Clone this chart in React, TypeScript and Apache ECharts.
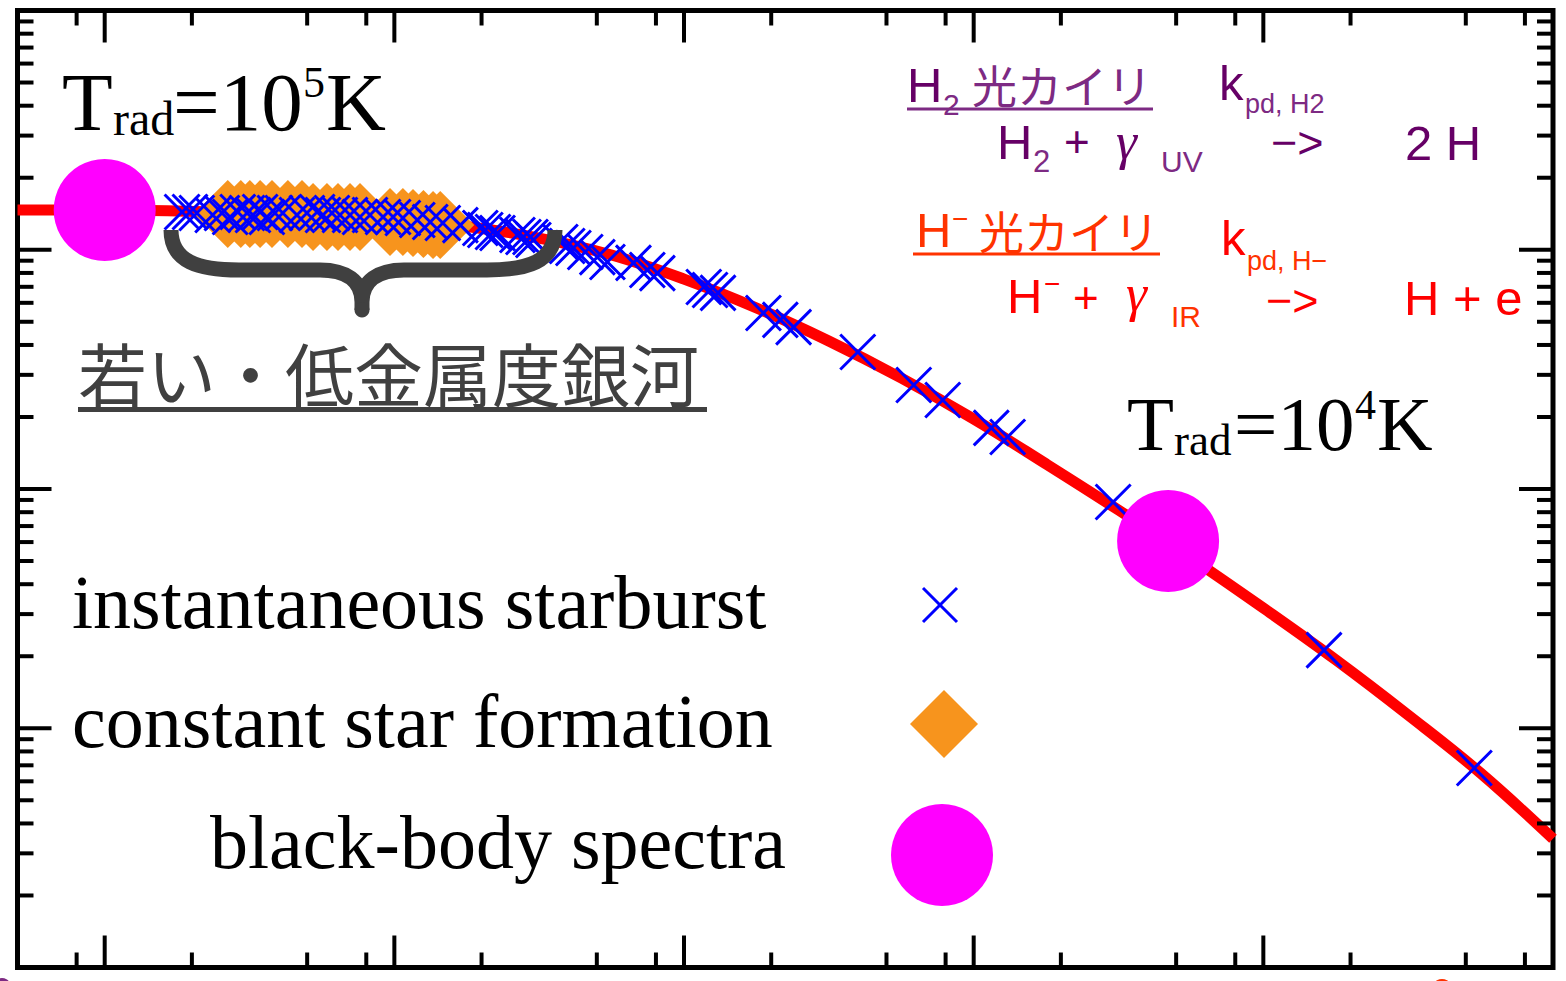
import React, { useEffect, useRef } from 'react';
import * as echarts from 'echarts';

// Axis ranges (log-log)
const X_MIN = 0.5;
const X_MAX = 1e5;
const Y_MIN = 1e-4;
const Y_MAX = 1;

// Black-body sequence (red curve)
const curveX = [0.5, 1, 1.78, 3.16, 5.62, 10, 17.8, 31.6, 56.2, 100, 178, 316, 562, 1000, 1780, 3160, 5620, 10000, 17800, 31600, 56200, 100000];
const curveY = [0.1466, 0.1466, 0.1452, 0.1424, 0.139, 0.1338, 0.1251, 0.1119, 0.0951, 0.0754, 0.0571, 0.04155, 0.02911, 0.01962, 0.01272, 0.00817, 0.00515, 0.00318, 0.00193, 0.001136, 0.00065, 0.000345];

// Instantaneous starburst models
const burstX = [1.85, 1.97, 2.08, 2.36, 2.54, 2.71, 2.88, 3.1, 3.25, 3.44, 3.63, 3.87, 4.12, 4.61, 4.99, 5.41, 5.67, 6.09, 6.49, 7.03, 7.61, 8.24, 9.14, 9.9, 10.7, 12.0, 13.3, 14.7, 16.9, 19.8, 21.9, 20.6, 22.7, 26.6, 27.9, 29.5, 30.2, 37.4, 39.5, 41.5, 45.6, 50.2, 54.4, 66.9, 74.7, 80.9, 117, 123, 131, 188, 215, 239, 398, 621, 782, 1150, 1310, 3030, 16200, 53500];
const burstY = [0.1438, 0.1438, 0.1424, 0.1397, 0.1424, 0.137, 0.1438, 0.1424, 0.1397, 0.1438, 0.137, 0.1424, 0.1424, 0.1397, 0.1424, 0.1438, 0.1397, 0.1424, 0.1397, 0.1397, 0.137, 0.1397, 0.137, 0.137, 0.1357, 0.1331, 0.1306, 0.1293, 0.1268, 0.1233, 0.1186, 0.1209, 0.1175, 0.1152, 0.113, 0.113, 0.1099, 0.1078, 0.1037, 0.1017, 0.0979, 0.0932, 0.0889, 0.0881, 0.0823, 0.0799, 0.0699, 0.0679, 0.066, 0.0544, 0.0509, 0.0475, 0.0374, 0.0272, 0.02355, 0.018, 0.0165, 0.00882, 0.00212, 0.000682];

// Constant star formation models
const constX = [2.66, 2.95, 3.17, 3.44, 3.78, 4.29, 4.8, 5.24, 5.85, 6.39, 7.03, 7.61, 9.66, 10.7, 11.6, 12.6, 13.6, 14.4];
const constY = [0.141, 0.141, 0.141, 0.141, 0.141, 0.141, 0.141, 0.137, 0.137, 0.137, 0.137, 0.137, 0.1306, 0.1306, 0.1293, 0.128, 0.1268, 0.1268];

// Black-body spectra: T_rad = 1e5 K and 1e4 K
const bbX = [1, 4690];
const bbY = [0.1466, 0.00606];

// Tick marks
const xMajorTicks = [1, 10, 100, 1000, 10000];
const xMinorTicks = [0.8, 2, 5, 8, 20, 50, 80, 200, 500, 800, 2000, 5000, 8000, 20000, 50000, 80000];
const yMajorTicks = [0.001, 0.01, 0.1];
const yDecades = [1e-4, 1e-3, 1e-2, 1e-1];
const yMinorMantissas = [2, 3, 4, 5, 6, 7, 8, 9];

const SERIF = "'Liberation Serif', 'Times New Roman', serif";
const SANS = "'Liberation Sans', Arial, sans-serif";
const CJK = "'Noto Sans CJK JP', 'Noto Sans CJK SC', sans-serif";
const CENTRAL: Record<string, number> = { serif: 0.3375, sans: 0.3465, cjk: 0.38 };

const PURPLE = '#660066';
const PURPLE_L = '#7d2a83';
const RED = '#ff0000';
const RED_L = '#ff3300';
const GRAY = '#404040';

const BRACE_D =
  'M171 230 C171 262 199 270 239 270 L320 270 C346 270 362 281 362 302 ' +
  'M555 230 C555 262 527 270 487 270 L404 270 C378 270 362 281 362 302 L362 310';

function label(text: string, x: number, baseline: number, size: number, kind: 'serif' | 'sans' | 'cjk', fill: string, italic = false) {
  const family = kind === 'serif' ? SERIF : kind === 'sans' ? SANS : CJK;
  return {
    type: 'text',
    x,
    y: baseline - CENTRAL[kind] * size,
    z: 100,
    silent: true,
    style: {
      text,
      fill,
      fontSize: size,
      fontFamily: family,
      fontStyle: italic ? 'italic' : 'normal',
      align: 'left',
      verticalAlign: 'middle',
    },
  };
}

function tickRenderer(axis: 'x' | 'y') {
  return (params: any, api: any) => {
    const cs = params.coordSys;
    const p = api.coord([api.value(0), api.value(1)]);
    const major = api.value(2) === 1;
    const style = { stroke: '#000', lineWidth: 4 };
    if (axis === 'x') {
      const len = major ? 32 : 15;
      const b = cs.y + cs.height;
      return {
        type: 'group',
        children: [
          { type: 'line', shape: { x1: p[0], y1: b, x2: p[0], y2: b - len }, style },
          { type: 'line', shape: { x1: p[0], y1: cs.y, x2: p[0], y2: cs.y + len }, style },
        ],
      };
    }
    const len = major ? 34 : 16;
    const r = cs.x + cs.width;
    return {
      type: 'group',
      children: [
        { type: 'line', shape: { x1: cs.x, y1: p[1], x2: cs.x + len, y2: p[1] }, style },
        { type: 'line', shape: { x1: r, y1: p[1], x2: r - len, y2: p[1] }, style },
      ],
    };
  };
}

export default function App() {
  const ref = useRef<HTMLDivElement>(null);

  useEffect(() => {
    if (!ref.current) return;
    document.body.style.margin = '0';
    echarts.graphic.registerShape('brace', echarts.graphic.extendPath(BRACE_D, {}));
    const chart = echarts.init(ref.current, null, { renderer: 'svg' });

    const yMinorTicks = yDecades.flatMap((d) => yMinorMantissas.map((m) => m * d));
    const xTickData = [
      ...xMajorTicks.map((v) => [v, Y_MIN, 1]),
      ...xMinorTicks.map((v) => [v, Y_MIN, 0]),
    ];
    const yTickData = [
      ...yMajorTicks.map((v) => [X_MIN, v, 1]),
      ...yMinorTicks.map((v) => [X_MIN, v, 0]),
    ];

    const graphic: any[] = [
      // brace under the young, low-metallicity galaxies
      {
        type: 'brace', x: 0, y: 0, z: 60, silent: true,
        style: { stroke: GRAY, lineWidth: 15, fill: 'none', lineCap: 'butt', lineJoin: 'round' },
      },
      { type: 'circle', shape: { cx: 362, cy: 310, r: 7.5 }, z: 60, silent: true, style: { fill: GRAY } },
      label('若い・低金属度銀河', 78, 398, 69, 'cjk', GRAY),
      { type: 'rect', shape: { x: 78, y: 407, width: 629, height: 5 }, z: 100, silent: true, style: { fill: GRAY } },

      // T_rad = 10^5 K
      label('T', 62, 130, 83, 'serif', '#000'),
      label('rad', 113, 135, 48, 'serif', '#000'),
      label('=10', 173, 130, 83, 'serif', '#000'),
      label('5', 303, 97, 44, 'serif', '#000'),
      label('K', 326, 130, 83, 'serif', '#000'),

      // T_rad = 10^4 K
      label('T', 1127, 450, 77, 'serif', '#000'),
      label('rad', 1174, 455, 45, 'serif', '#000'),
      label('=10', 1234, 450, 77, 'serif', '#000'),
      label('4', 1355, 419, 42, 'serif', '#000'),
      label('K', 1377, 450, 77, 'serif', '#000'),

      // H2 photodissociation
      label('H', 907, 102, 49, 'sans', PURPLE),
      label('2', 943, 115, 30, 'sans', PURPLE_L),
      label('光カイリ', 972, 102, 45, 'cjk', PURPLE_L),
      { type: 'rect', shape: { x: 907, y: 107.5, width: 246, height: 3 }, z: 100, silent: true, style: { fill: PURPLE_L } },
      label('k', 1219, 100, 49, 'sans', PURPLE),
      label('pd, H2', 1245, 113, 27, 'sans', PURPLE_L),
      label('H', 997, 159, 49, 'sans', PURPLE),
      label('2', 1033, 172, 31, 'sans', PURPLE_L),
      label('+', 1064, 157, 44, 'sans', PURPLE),
      label('γ', 1116, 159, 53, 'serif', PURPLE, true),
      label('UV', 1161, 172, 30, 'sans', PURPLE_L),
      label('−>', 1271, 158, 45, 'sans', PURPLE),
      label('2 H', 1405, 160, 49, 'sans', PURPLE),

      // H- photodetachment
      label('H', 916, 247, 49, 'sans', RED_L),
      label('−', 952, 228, 28, 'sans', RED_L),
      label('光カイリ', 979, 248, 45, 'cjk', RED_L),
      { type: 'rect', shape: { x: 913, y: 252.5, width: 247, height: 3 }, z: 100, silent: true, style: { fill: RED_L } },
      label('k', 1221, 255, 49, 'sans', RED),
      label('pd, H−', 1247, 270, 27, 'sans', RED_L),
      label('H', 1007, 313, 49, 'sans', RED),
      label('−', 1044, 293, 28, 'sans', RED),
      label('+', 1073, 313, 44, 'sans', RED),
      label('γ', 1126, 311, 53, 'serif', RED, true),
      label('IR', 1171, 327, 30, 'sans', RED_L),
      label('−>', 1266, 316, 45, 'sans', RED),
      label('H + e', 1404, 315, 49, 'sans', RED),

      // key
      label('instantaneous starburst', 72, 628, 76, 'serif', '#000'),
      label('constant star formation', 72, 747, 76, 'serif', '#000'),
      label('black-body spectra', 210, 868, 76, 'serif', '#000'),
      { type: 'line', shape: { x1: 923, y1: 588, x2: 957, y2: 622 }, z: 100, silent: true, style: { stroke: '#0000ff', lineWidth: 3 } },
      { type: 'line', shape: { x1: 957, y1: 588, x2: 923, y2: 622 }, z: 100, silent: true, style: { stroke: '#0000ff', lineWidth: 3 } },
      { type: 'polygon', shape: { points: [[944, 690], [978, 724], [944, 758], [910, 724]] }, z: 100, silent: true, style: { fill: '#f7941d' } },
      { type: 'circle', shape: { cx: 942, cy: 855, r: 51 }, z: 100, silent: true, style: { fill: '#ff00ff' } },

      // clipped marks along the lower edge
      { type: 'circle', shape: { cx: 2, cy: 987, r: 9 }, z: 100, silent: true, style: { fill: '#7d2a83' } },
      { type: 'circle', shape: { cx: 1442, cy: 989, r: 10 }, z: 100, silent: true, style: { fill: '#ff3300' } },
    ];

    chart.setOption({
      animation: false,
      tooltip: { show: false },
      grid: {
        left: 17.5, top: 10.5, width: 1535.5, height: 957,
        show: true, borderColor: '#000', borderWidth: 5, backgroundColor: 'transparent',
      },
      xAxis: {
        type: 'log', logBase: 10, min: X_MIN, max: X_MAX,
        axisLine: { show: false }, axisTick: { show: false }, axisLabel: { show: false }, splitLine: { show: false },
      },
      yAxis: {
        type: 'log', logBase: 10, min: Y_MIN, max: Y_MAX,
        axisLine: { show: false }, axisTick: { show: false }, axisLabel: { show: false }, splitLine: { show: false },
      },
      graphic,
      series: [
        {
          name: 'black-body track', type: 'line', z: 2,
          data: curveX.map((x, i) => [x, curveY[i]]),
          showSymbol: false, smooth: 0.4,
          lineStyle: { color: RED, width: 11, cap: 'butt', opacity: 1 },
          silent: true,
        },
        {
          name: 'constant star formation', type: 'scatter', z: 3,
          data: constX.map((x, i) => [x, constY[i]]),
          symbol: 'diamond', symbolSize: 68,
          itemStyle: { color: '#f7941d', opacity: 1 },
          silent: true,
        },
        {
          name: 'instantaneous starburst', type: 'scatter', z: 4,
          data: burstX.map((x, i) => [x, burstY[i]]),
          symbol: 'path://M0,0L10,10M10,0L0,10', symbolSize: 35,
          itemStyle: { color: 'transparent', borderColor: '#0000ff', borderWidth: 3, opacity: 1 },
          silent: true,
        },
        {
          name: 'black-body spectra', type: 'scatter', z: 5,
          data: bbX.map((x, i) => [x, bbY[i]]),
          symbol: 'circle', symbolSize: 102,
          itemStyle: { color: '#ff00ff', opacity: 1 },
          silent: true,
        },
        { name: 'x ticks', type: 'custom', z: 6, data: xTickData, renderItem: tickRenderer('x'), silent: true },
        { name: 'y ticks', type: 'custom', z: 6, data: yTickData, renderItem: tickRenderer('y'), silent: true },
      ],
    });

    return () => chart.dispose();
  }, []);

  return <div ref={ref} style={{ position: 'absolute', left: 0, top: 0, width: 1566, height: 981 }} />;
}
